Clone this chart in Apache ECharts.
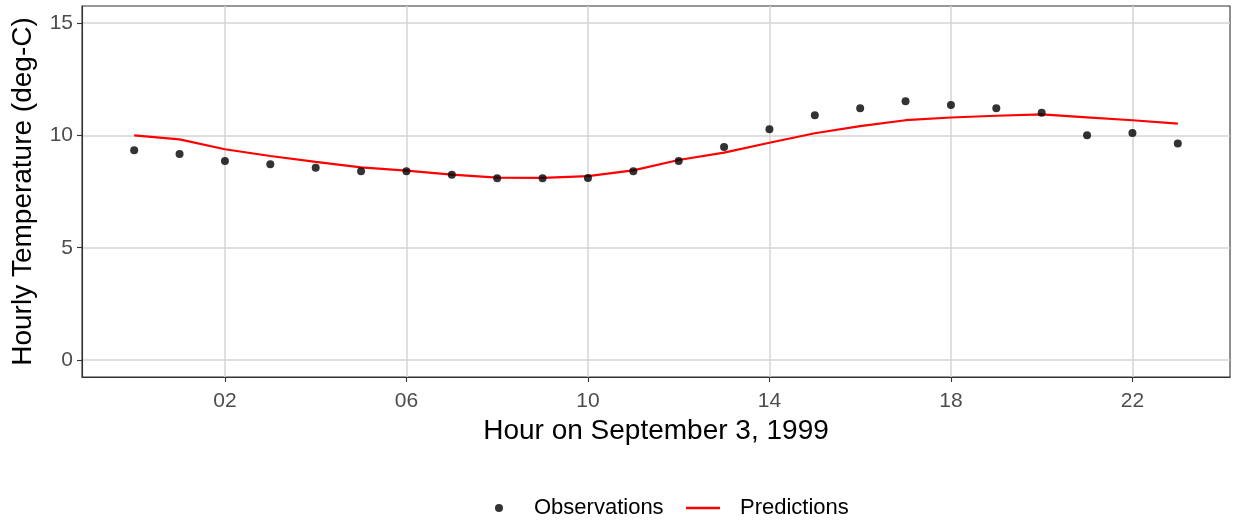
<!DOCTYPE html>
<html>
<head>
<meta charset="utf-8">
<script src="https://cdn.jsdelivr.net/npm/echarts@6/dist/echarts.min.js"></script>
<style>
html,body{margin:0;padding:0;background:#fff;}
#chart{width:1235px;height:523px;}
</style>
</head>
<body>
<div id="chart"></div>
<script>
// Hours 0..23 on September 3, 1999
const hours = [0,1,2,3,4,5,6,7,8,9,10,11,12,13,14,15,16,17,18,19,20,21,22,23];
const observations = [9.33,9.17,8.86,8.71,8.56,8.40,8.40,8.25,8.09,8.09,8.10,8.40,8.86,9.48,10.27,10.89,11.20,11.51,11.35,11.20,11.00,10.00,10.10,9.63];
const predictions = [10.00,9.82,9.38,9.08,8.82,8.57,8.43,8.25,8.12,8.11,8.18,8.44,8.90,9.23,9.67,10.09,10.41,10.67,10.79,10.87,10.93,10.80,10.67,10.52];
const xTickValues = [2,6,10,14,18,22];
const xTickLabels = ['02','06','10','14','18','22'];
const yTickValues = [0,5,10,15];

const font = 'Liberation Sans, Arial, sans-serif';
const chart = echarts.init(document.getElementById('chart'));
chart.setOption({
  animation: false,
  backgroundColor: '#ffffff',
  grid: {left: 82, right: 5, top: 6, bottom: 146, show: true, borderColor: '#333333', borderWidth: 1.1, backgroundColor: 'transparent'},
  xAxis: {
    type: 'value', min: -1.15, max: 24.15,
    name: 'Hour on September 3, 1999', nameLocation: 'middle', nameGap: 38,
    nameTextStyle: {fontFamily: font, fontSize: 28, color: '#000'},
    axisLine: {show: true, onZero: false, lineStyle: {color: '#333333', width: 1.1}},
    axisTick: {show: true, length: 5, customValues: xTickValues, lineStyle: {color: '#333333', width: 1.1}},
    axisLabel: {customValues: xTickValues, margin: 14, fontFamily: font, fontSize: 21, color: '#4d4d4d',
      formatter: v => xTickLabels[xTickValues.indexOf(v)]},
    splitLine: {show: true, lineStyle: {color: '#d4d4d4', width: 1.5}}
  },
  yAxis: {
    type: 'value', min: -0.75, max: 15.75,
    name: 'Hourly Temperature (deg-C)', nameLocation: 'middle', nameGap: 45,
    nameTextStyle: {fontFamily: font, fontSize: 28, color: '#000'},
    axisLine: {show: true, onZero: false, lineStyle: {color: '#333333', width: 1.1}},
    axisTick: {show: true, length: 5, customValues: yTickValues, lineStyle: {color: '#333333', width: 1.1}},
    axisLabel: {customValues: yTickValues, margin: 9, fontFamily: font, fontSize: 21, color: '#4d4d4d'},
    splitLine: {show: true, lineStyle: {color: '#d4d4d4', width: 1.5}}
  },
  legend: [
    {data: [{name: 'Observations', icon: 'circle'}], left: 490, top: 492, itemWidth: 8, itemHeight: 8,
     textStyle: {fontFamily: font, fontSize: 22, color: '#000', padding: [0,0,0,26]}},
    {data: [{name: 'Predictions', icon: 'rect'}], left: 681, top: 492, itemWidth: 34, itemHeight: 2.3,
     textStyle: {fontFamily: font, fontSize: 22, color: '#000', padding: [0,0,0,15]}}
  ],
  series: [
    {name: 'Predictions', type: 'line', data: hours.map((h,i)=>[h, predictions[i]]),
     symbol: 'none', lineStyle: {color: '#ff0000', width: 2.2}, itemStyle: {color: '#ff0000'}, z: 2},
    {name: 'Observations', type: 'scatter', data: hours.map((h,i)=>[h, observations[i]]),
     symbol: 'circle', symbolSize: 8, itemStyle: {color: '#000000'}, z: 3}
  ]
});
</script>
</body>
</html>
